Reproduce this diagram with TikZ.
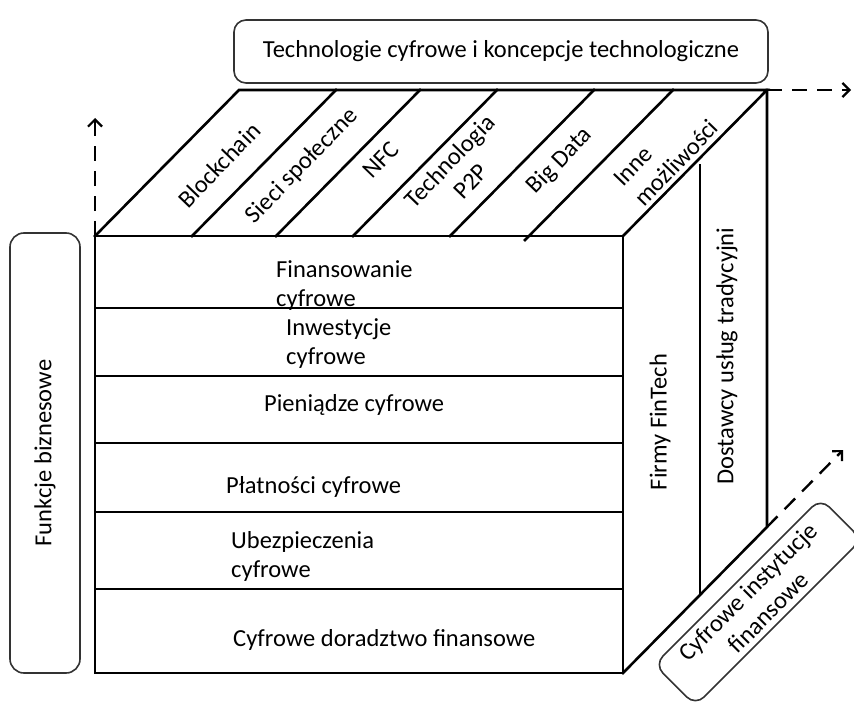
\documentclass[tikz,border=0pt]{standalone}
\usepackage{fontspec}
\setmainfont{Carlito}
\usetikzlibrary{arrows.meta}
\newcommand\lblfont{\fontsize{24.5}{29}\selectfont}
\begin{document}
\begin{tikzpicture}[x=1pt,y=-1pt,
  cube/.style={line width=2.6pt, line join=miter, line cap=rect},
  rbox/.style={draw=black!80, line width=1.6pt, rounded corners=12pt, fill=white, inner sep=0pt, font=\lblfont, align=center},
  lbl/.style={inner sep=0pt, font=\lblfont, text=black},
  dasharrow/.style={line width=2.4pt, dash pattern=on 15pt off 10pt, -{Straight Barb[length=7pt,width=14pt,line width=2.2pt]}}
]
\useasboundingbox (0,0) rectangle (854,706);

% cube corners
\coordinate (F1) at (95,236);
\coordinate (F2) at (623,236);
\coordinate (F3) at (623,673);
\coordinate (F4) at (95,673);
\coordinate (B1) at (239,90);
\coordinate (B2) at (767,90);
\coordinate (B3) at (767,527);

% front face
\draw[cube] (F1) -- (F2) -- (F3) -- (F4) -- cycle;
\foreach \yy/\nm in {308/h1,376/h2,443/h3,512/h4,589/h5}{
  \coordinate (\nm a) at (95,\yy);
  \coordinate (\nm b) at (623,\yy);
  \draw[cube] (\nm a) -- (\nm b);
}
% top face
\draw[cube] (F1) -- (B1) -- (B2) -- (F2);
\foreach \xx/\nm in {192/t1,276/t2,353/t3,450/t4}{
  \coordinate (\nm a) at (\xx,236);
  \coordinate (\nm b) at (\xx+144,90);
  \draw[cube] (\nm a) -- (\nm b);
}
\coordinate (t5a) at (525,240);
\coordinate (t5b) at (673,90);
\draw[cube] (t5a) -- (t5b);
% right face
\draw[cube] (B2) -- (B3) -- (F3);
\coordinate (s1a) at (700,165);
\coordinate (s1b) at (700,594);
\draw[cube] (s1a) -- (s1b);

% dashed axes
\coordinate (upEnd) at (95,118);
\coordinate (rightEnd) at (851,90);
\coordinate (diagEnd) at (843,450);
\draw[dasharrow] (F1) -- (upEnd);
\draw[dasharrow] (B2) -- (rightEnd);
\draw[dasharrow] (B3) -- (diagEnd);

% rounded boxes
\node[rbox, minimum width=534pt, minimum height=63pt] (tech) at (501,51.5) {Technologie cyfrowe i koncepcje technologiczne};
\node[rbox, minimum width=440pt, minimum height=70pt, rotate=90, rounded corners=14pt] (funk) at (45,453) {Funkcje biznesowe};
\node[rbox, minimum width=235pt, minimum height=58pt, rotate=45] (inst) at (758,602) {Cyfrowe instytucje\\finansowe};

% front face labels
\node[lbl, anchor=west, align=left] (fin) at (276,286) {Finansowanie\\cyfrowe};
\node[lbl, anchor=west, align=left] (inw) at (286,344) {Inwestycje\\cyfrowe};
\node[lbl, anchor=west] (pien) at (264,405) {Pieniądze cyfrowe};
\node[lbl, anchor=west] (plat) at (226,487) {Płatności cyfrowe};
\node[lbl, anchor=west, align=left] (ubez) at (231,556) {Ubezpieczenia\\cyfrowe};
\node[lbl, anchor=west] (dor) at (233,640) {Cyfrowe doradztwo finansowe};

% top face labels
\node[lbl, rotate=46] (blk) at (219,165) {Blockchain};
\node[lbl, rotate=46] (sieci) at (302,166) {Sieci społeczne};
\node[lbl, rotate=46] (nfc) at (381,160) {NFC};
\node[lbl, rotate=46, align=center] (p2p) at (460,171) {Technologia\\P2P};
\node[lbl, rotate=46] (bd) at (560,161) {Big Data};
\node[lbl, rotate=46, align=left] (inne) at (666,153) {Inne\\możliwości};

% side labels
\node[lbl, rotate=90] (firmy) at (660,422) {Firmy FinTech};
\node[lbl, rotate=90] (dost) at (727,356) {Dostawcy usług tradycyjni};
\end{tikzpicture}
\end{document}
